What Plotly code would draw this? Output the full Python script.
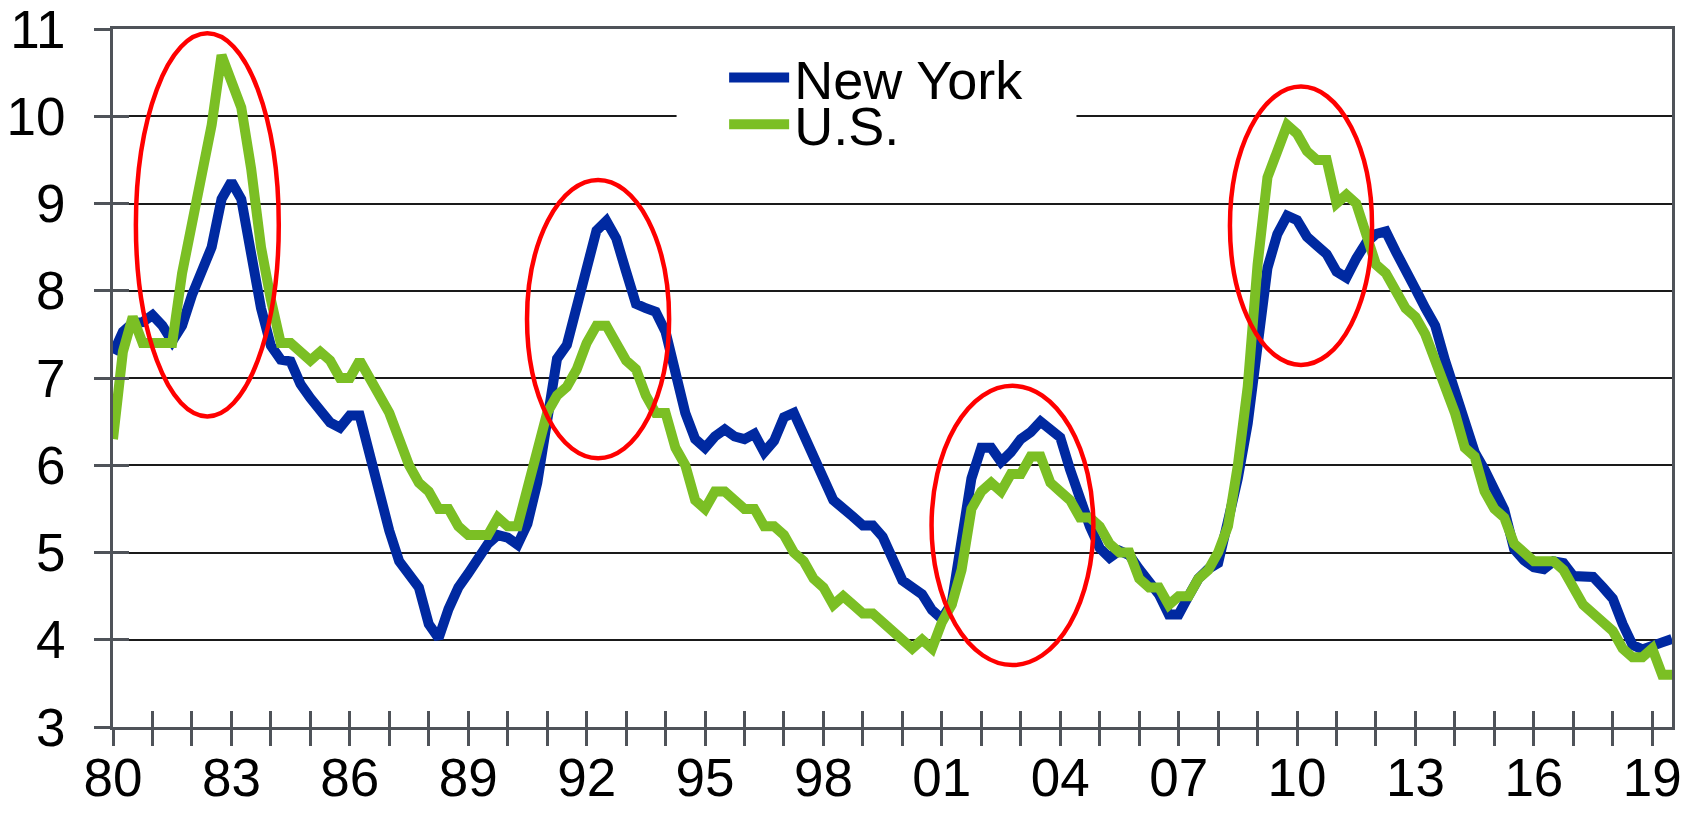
import plotly.graph_objects as go

# quarterly unemployment rate, 1980Q1 .. 2019Q3
anio_inicio = 1980
ny = [7.28, 7.53, 7.63, 7.64,
      7.72, 7.6, 7.42, 7.6,
      7.95, 8.2, 8.5, 9.05,
      9.25, 9.05, 8.42, 7.8,
      7.37, 7.21, 7.19, 6.93,
      6.77, 6.62, 6.49, 6.43,
      6.57, 6.57, 6.1, 5.65,
      5.25, 4.9, 4.75, 4.6,
      4.18, 4.02, 4.35, 4.6,
      4.76, 4.95, 5.1, 5.2,
      5.17, 5.09, 5.33, 5.8,
      6.6, 7.22, 7.38, 7.8,
      8.32, 8.69, 8.8, 8.6,
      8.22, 7.85, 7.8, 7.76,
      7.53, 7.0, 6.6, 6.3,
      6.2, 6.33, 6.41, 6.33,
      6.3, 6.36, 6.15, 6.28,
      6.55, 6.6, 6.37, 6.1,
      5.85, 5.6, 5.49, 5.41,
      5.31, 5.31, 5.18, 4.92,
      4.68, 4.6, 4.52, 4.34,
      4.24, 4.42, 5.1, 5.85,
      6.2, 6.2, 6.04, 6.15,
      6.3, 6.38, 6.5, 6.42,
      6.32, 5.95, 5.6, 5.3,
      5.05, 4.94, 5.02, 4.97,
      4.81, 4.68, 4.52, 4.29,
      4.29, 4.5, 4.7, 4.81,
      4.88, 5.36, 5.85, 6.48,
      7.35, 8.26, 8.65, 8.86,
      8.81, 8.62, 8.52, 8.42,
      8.22, 8.15, 8.37, 8.55,
      8.65, 8.68, 8.45, 8.21,
      8.02, 7.8, 7.6, 7.2,
      6.85, 6.5, 6.15, 5.95,
      5.72, 5.49, 5.04, 4.91,
      4.83, 4.81, 4.9, 4.88,
      4.73, 4.73, 4.72, 4.6,
      4.47, 4.18, 3.94, 3.89,
      3.92, 3.97, 4.01]

us = [6.3, 7.3, 7.7, 7.4,
      7.4, 7.4, 7.4, 8.2,
      8.8, 9.4, 9.9, 10.7,
      10.4, 10.1, 9.4, 8.5,
      7.9, 7.4, 7.4, 7.3,
      7.2, 7.3, 7.2, 7.0,
      7.0, 7.2, 7.0, 6.8,
      6.6, 6.3, 6.0, 5.8,
      5.7, 5.5, 5.5, 5.3,
      5.2, 5.2, 5.2, 5.4,
      5.3, 5.3, 5.7, 6.1,
      6.6, 6.8, 6.9, 7.1,
      7.4, 7.6, 7.6, 7.4,
      7.2, 7.1, 6.8, 6.6,
      6.6, 6.2, 6.0, 5.6,
      5.5, 5.7, 5.7, 5.6,
      5.5, 5.5, 5.3, 5.3,
      5.2, 5.0, 4.9, 4.7,
      4.6, 4.4, 4.5, 4.4,
      4.3, 4.3, 4.2, 4.1,
      4.0, 3.9, 4.0, 3.9,
      4.2, 4.4, 4.8, 5.5,
      5.7, 5.8, 5.7, 5.9,
      5.9, 6.1, 6.1, 5.8,
      5.7, 5.6, 5.4, 5.4,
      5.3, 5.1, 5.0, 5.0,
      4.7, 4.6, 4.6, 4.4,
      4.5, 4.5, 4.7, 4.8,
      5.0, 5.3, 6.0, 6.9,
      8.3, 9.3, 9.6, 9.9,
      9.8, 9.6, 9.5, 9.5,
      9.0, 9.1, 9.0, 8.6,
      8.3, 8.2, 8.0, 7.8,
      7.7, 7.5, 7.2, 6.9,
      6.6, 6.2, 6.1, 5.7,
      5.5, 5.4, 5.1, 5.0,
      4.9, 4.9, 4.9, 4.8,
      4.6, 4.4, 4.3, 4.2,
      4.1, 3.9, 3.8, 3.8,
      3.9, 3.6, 3.6]

# etiquetas del eje x (cada 3 años)
anios = list(range(1980, 2020))
etiquetas = [str(a)[2:] if (a - 1980) % 3 == 0 else '' for a in anios]

# elipses rojas: (x0, x1, y0, y1) en años / tasa
elipses = [(1980.58, 1984.2, 6.56, 10.95),
           (1990.49, 1994.09, 6.08, 9.27),
           (2000.74, 2004.84, 3.71, 6.91),
           (2008.3, 2011.9, 7.15, 10.34)]

fecha = [anio_inicio + i / 4 for i in range(len(ny))]

azul = '#0029A1'
verde = '#7BBF24'
gris = '#4F5359'
fuente = 'Liberation Sans, Arial, sans-serif'

fig = go.Figure()
fig.add_trace(go.Scatter(x=fecha, y=ny, name='New York', mode='lines',
                         line=dict(color=azul, width=10), legend='legend'))
fig.add_trace(go.Scatter(x=fecha, y=us, name='U.S.', mode='lines',
                         line=dict(color=verde, width=10), legend='legend2'))
# eje auxiliar para las marcas hacia adentro
fig.add_trace(go.Scatter(x=[], y=[], xaxis='x2', yaxis='y2', showlegend=False, hoverinfo='skip'))

for (x0, x1, y0, y1) in elipses:
    fig.add_shape(type='circle', xref='x', yref='y', x0=x0, x1=x1, y0=y0, y1=y1,
                  line=dict(color='#FF0000', width=4.5), layer='above')

# caja blanca de la leyenda
fig.add_shape(type='rect', xref='paper', yref='paper', x0=0.3615, x1=0.618, y0=0.805, y1=0.984,
              fillcolor='white', line=dict(width=0), layer='above')

fig.update_layout(
    width=1696, height=816,
    margin=dict(l=112.5, r=23.5, t=29, b=89),
    paper_bgcolor='white', plot_bgcolor='white',
    font=dict(family=fuente, size=53, color='black'),
    showlegend=True,
    legend=dict(x=0.392, y=0.930, xanchor='left', yanchor='middle', bgcolor='rgba(0,0,0,0)',
                font=dict(size=54), itemwidth=60),
    legend2=dict(x=0.392, y=0.863, xanchor='left', yanchor='middle', bgcolor='rgba(0,0,0,0)',
                 font=dict(size=54), itemwidth=60),
    xaxis=dict(range=[1980, 2019.5], tickvals=anios, ticktext=etiquetas,
               ticks='outside', ticklen=16, tickwidth=2.5, tickcolor=gris,
               showline=True, linecolor=gris, linewidth=3, mirror=True,
               showgrid=False, zeroline=False, ticklabelstandoff=-14,
               tickfont=dict(size=53), automargin=False, ticklabeloverflow='allow'),
    yaxis=dict(range=[3, 11], dtick=1, ticks='outside', ticklen=16, tickwidth=2.5, tickcolor=gris,
               showline=True, linecolor=gris, linewidth=3, mirror=True,
               showgrid=True, gridcolor='#1A1A1A', gridwidth=2, zeroline=False,
               ticklabelstandoff=18, tickfont=dict(size=53), automargin=False,
               ticklabeloverflow='allow'),
    xaxis2=dict(range=[1980, 2019.5], tickvals=anios, overlaying='x', anchor='y2', side='bottom',
                ticks='inside', ticklen=16, tickwidth=2.5, tickcolor=gris,
                showticklabels=False, showgrid=False, showline=False, zeroline=False),
    yaxis2=dict(range=[3, 11], dtick=1, overlaying='y', anchor='x2', side='left',
                ticks='inside', ticklen=16, tickwidth=2.5, tickcolor=gris,
                showticklabels=False, showgrid=False, showline=False, zeroline=False),
)

# sin el margen de 8px del body, la figura ocupa toda la ventana
fig.write_html("out.html", config={'displayModeBar': False},
               post_script="document.body.style.margin='0';")
